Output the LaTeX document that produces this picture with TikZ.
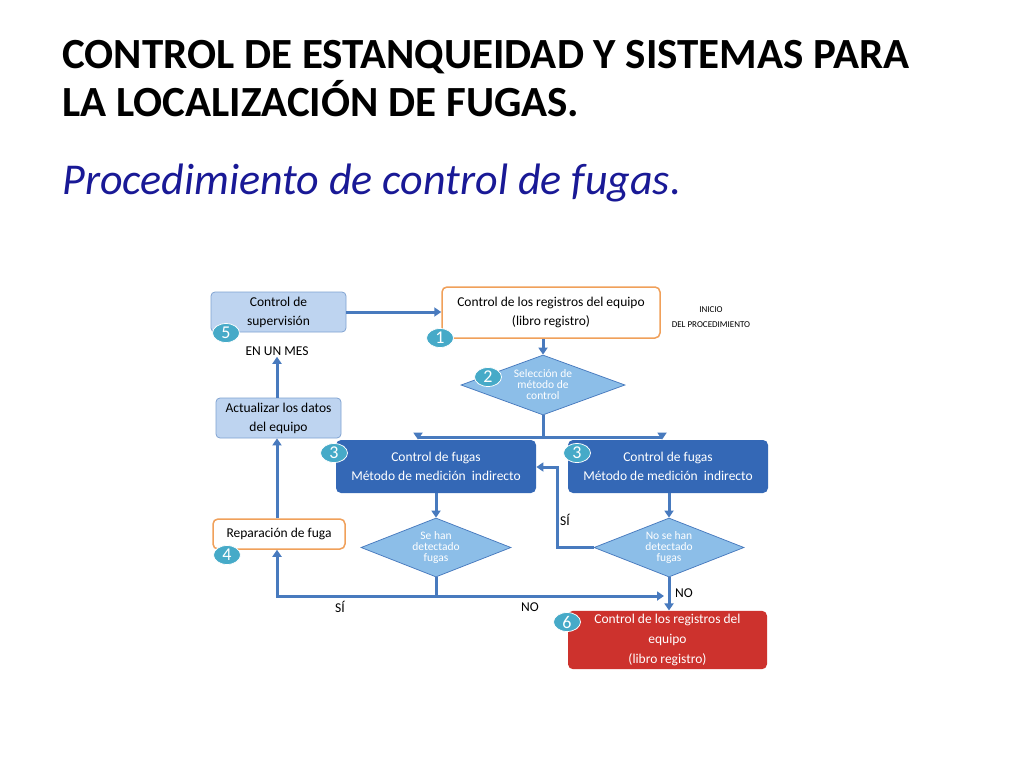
\documentclass[tikz,border=0pt]{standalone}
\usepackage{fontspec}
\setmainfont{Carlito}
\usetikzlibrary{shapes.geometric,arrows.meta}
\definecolor{flowblue}{RGB}{72,122,190}
\definecolor{lightbox}{RGB}{190,212,240}
\definecolor{darkbox}{RGB}{52,104,182}
\definecolor{diafill}{RGB}{140,190,232}
\definecolor{boxorange}{RGB}{240,160,90}
\definecolor{redbox}{RGB}{205,50,45}
\definecolor{badge}{RGB}{70,170,200}
\definecolor{subblue}{RGB}{25,25,150}
\tikzset{every picture/.style={line width=0.75pt}}
\tikzset{
  flow/.style={draw=flowblue, line width=3pt, -{Triangle[length=7pt,width=9pt]}},
  flowline/.style={draw=flowblue, line width=3pt},
  lightstep/.style={draw=flowblue!70, fill=lightbox, rounded corners=4pt, align=center, font=\fontsize{13.5}{19}\selectfont},
  orangestep/.style={draw=boxorange, line width=1.5pt, fill=white, rounded corners=5pt, align=center, font=\fontsize{13.5}{19}\selectfont},
  darkstep/.style={fill=darkbox, rounded corners=5pt, text=white, align=center, font=\fontsize{13.5}{19}\selectfont},
  decision/.style={diamond, aspect=2.6, draw=flowblue, fill=diafill, text=white, align=center, inner xsep=-14pt, inner ysep=-12pt, font=\fontsize{11.5}{11}\selectfont},
  badgenum/.style={ellipse, fill=badge, draw=white, text=white, minimum width=27pt, minimum height=19pt, inner sep=0pt, font=\fontsize{18}{18}\selectfont},
  lbl/.style={inner sep=1pt, font=\fontsize{13.5}{16}\selectfont}
}
\begin{document}
\begin{tikzpicture}[x=1pt,y=-1pt]
\useasboundingbox[fill=white] (0,0) rectangle (1024,768);

% Titles
\node[anchor=west, inner sep=0pt, font=\fontsize{43}{48}\selectfont\bfseries, align=left] (title) at (62,79)
  {CONTROL DE ESTANQUEIDAD Y SISTEMAS PARA\\LA LOCALIZACIÓN DE FUGAS.};
\node[anchor=west, inner sep=0pt, text=subblue, font=\fontsize{44}{48}\selectfont\itshape] (subtitle) at (62,183)
  {Procedimiento de control de fugas.};

% Boxes
\node[lightstep, minimum width=135pt, minimum height=40pt] (superv) at (278.5,312) {Control de\\supervisión};
\node[orangestep, minimum width=218pt, minimum height=51pt] (reg) at (551,312.5) {Control de los registros del equipo\\(libro registro)};
\node[decision, minimum width=164pt, minimum height=60pt] (sel) at (543,385) {Selección de\\método de\\control};
\node[lightstep, minimum width=125pt, minimum height=40pt] (actual) at (278.5,418) {Actualizar los datos\\del equipo};
\node[darkstep, minimum width=200pt, minimum height=53pt] (fugasL) at (436,466.5) {Control de fugas\\Método de medición\ \ indirecto};
\node[darkstep, minimum width=200pt, minimum height=53pt] (fugasR) at (668,466.5) {Control de fugas\\Método de medición\ \ indirecto};
\node[orangestep, minimum width=132pt, minimum height=30pt] (repar) at (279,534) {Reparación de fuga};
\node[decision, minimum width=150pt, minimum height=59pt] (detL) at (436,547.5) {Se han\\detectado\\fugas};
\node[decision, minimum width=150pt, minimum height=59pt] (detR) at (669,547.5) {No se han\\detectado\\fugas};
\node[fill=redbox, rounded corners=5pt, text=white, align=center, font=\fontsize{13.5}{20}\selectfont, minimum width=199pt, minimum height=56pt] (final) at (667.5,640) {Control de los registros del\\equipo\\(libro registro)};

% Labels
\node[align=center, inner sep=0pt, font=\fontsize{9}{15}\selectfont] (inicio) at (711,317) {INICIO\\DEL PROCEDIMIENTO};
\node[lbl] (mes) at (277,351) {EN UN MES};
\node[lbl] (siR) at (565,520) {SÍ};
\node[lbl] (noR) at (684,593) {NO};
\node[lbl] (siL) at (340,607) {SÍ};
\node[lbl] (noL) at (530,607) {NO};

% Junction points
\coordinate (split) at (543,437);
\coordinate (splitL) at (418,437);
\coordinate (splitR) at (662,437);
\coordinate (loopB) at (557,547.5);
\coordinate (loopT) at (557,467);
\coordinate (join) at (436,596);
\coordinate (joinL) at (277,596);
\coordinate (joinR) at (664,596);

% Connectors
\draw[flow] (superv.east) -- (reg.west |- superv.east);
\draw[flow] (reg.south -| sel.north) -- (sel.north);
\draw[flowline] (sel.south) -- (split);
\draw[flowline] (splitL) -- (splitR);
\draw[flow] (splitL) -- (splitL |- fugasL.north);
\draw[flow] (splitR) -- (splitR |- fugasR.north);
\draw[flow] (fugasL.south) -- (detL.north);
\draw[flow] (fugasR.south -| detR.north) -- (detR.north);
\draw[flow] (detR.west) -- (loopB) -- (loopT) -- (fugasL.east |- loopT);
\draw[flowline] (detL.south) -- (join);
\draw[flow] (join) -- (joinL) -- (repar.south -| joinL);
\draw[flow] (join) -- (joinR);
\draw[flow] (detR.south) -- (final.north -| detR.south);
\draw[flow] (repar.north -| joinL) -- (actual.south -| joinL);
\draw[flow] (actual.north -| joinL) -- (mes.south -| joinL);

% Badges
\node[badgenum] (b5) at (226,333) {5};
\node[badgenum] (b1) at (440,338) {1};
\node[badgenum] (b2) at (488,377) {2};
\node[badgenum] (b3L) at (334,453) {3};
\node[badgenum] (b3R) at (577,453) {3};
\node[badgenum] (b4) at (227,555) {4};
\node[badgenum] (b6) at (567,622) {6};
\end{tikzpicture}
\end{document}
